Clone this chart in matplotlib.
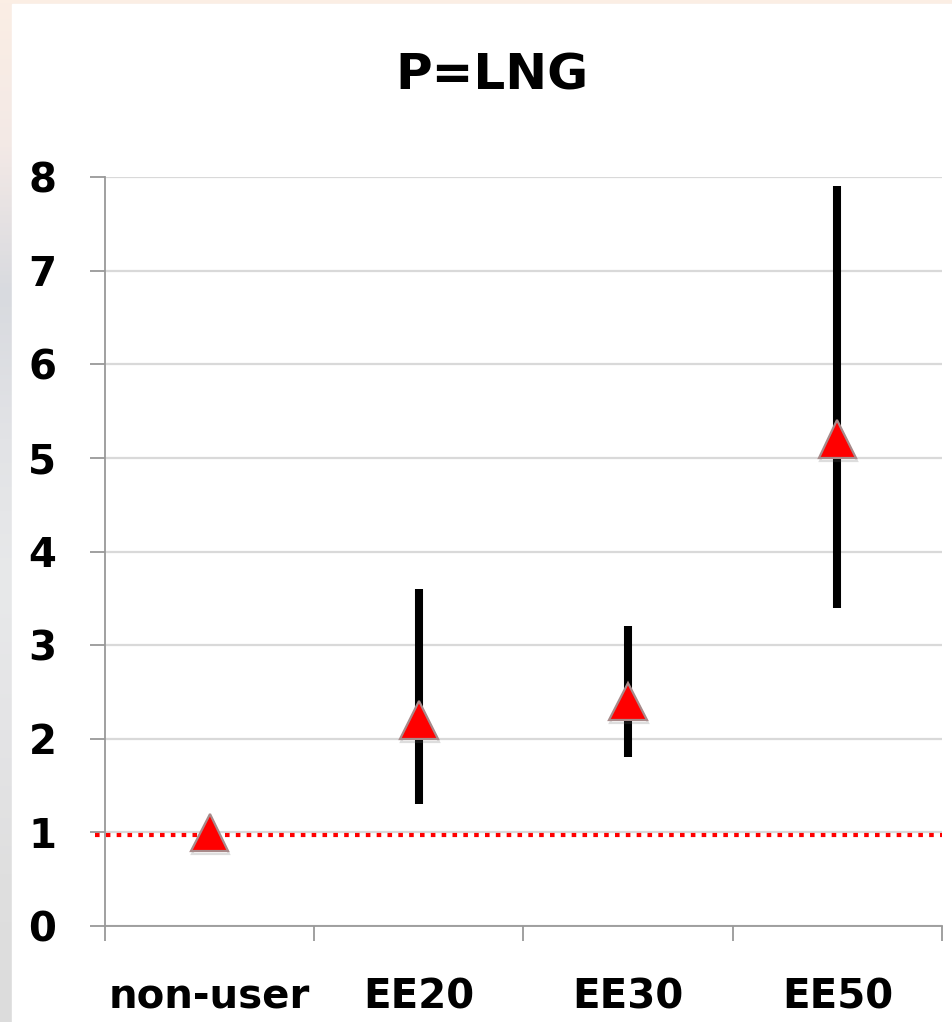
import numpy as np
import matplotlib
matplotlib.use("Agg")
import matplotlib.pyplot as plt
import matplotlib.patheffects as pe
from matplotlib.colors import LinearSegmentedColormap

# odds ratio estimates with 95% CI per exposure group
groups = ["non-user", "EE20", "EE30", "EE50"]
estimate = [1.0, 2.2, 2.4, 5.2]
ci_low = [None, 1.3, 1.8, 3.4]
ci_high = [None, 3.6, 3.2, 7.9]
reference_level = 0.97

plt.rcParams.update({"font.family": "DejaVu Sans", "font.weight": "bold"})

W, H = 953, 1022
fig = plt.figure(figsize=(W / 100, H / 100), dpi=100)

# hazy slide backdrop behind the white panel
bg = fig.add_axes([0, 0, 1, 1], zorder=-10)
bg.set_axis_off()
haze = LinearSegmentedColormap.from_list(
    "haze", ["#dcdcdc", "#dfdfdf", "#e4e4e6", "#e8e9ea", "#e2e3e6", "#d8dadf", "#f3e9e6", "#fbeee4"])
bg.imshow(np.linspace(0, 1, 256)[:, None], aspect="auto", cmap=haze,
          origin="lower", extent=[0, 1, 0, 1])
bg.add_patch(plt.Rectangle((12 / W, 0), 1, 1 - 4 / H, color="white", zorder=2))
bg.set_xlim(0, 1); bg.set_ylim(0, 1)

ax = fig.add_axes([105 / W, 1 - 926 / H, (942 - 105) / W, (926 - 177) / H])
ax.set_facecolor("none")
x = np.arange(len(groups))

for xi, lo, hi in zip(x, ci_low, ci_high):
    if lo is not None:
        ax.plot([xi, xi], [lo, hi], color="black", lw=5.8, solid_capstyle="butt", zorder=3)

ax.axhline(reference_level, xmin=-0.012, xmax=1.0, color="#ff0000", lw=3.0,
           ls=(0, (1.1, 1.5)), zorder=2, clip_on=False)

ax.plot(x, estimate, ls="none", marker="^", ms=27, mfc="#ff0000", mec="#a88a8a", mew=1.6,
        zorder=4, path_effects=[pe.SimpleLineShadow(offset=(0.8, -2.2), shadow_color="#666666", alpha=0.22),
                                pe.Normal()])

ax.set_xlim(-0.5, len(groups) - 0.5)
ax.set_ylim(0, 8)
ax.set_yticks(range(0, 9))
ax.set_xticks(x)
ax.set_xticklabels(groups)
ax.set_xticks(np.arange(-0.5, len(groups)), minor=True)
ax.tick_params(axis="x", which="major", length=0, pad=37, labelsize=29)
ax.tick_params(axis="x", which="minor", length=11, width=1.3, color="#999999", direction="out")
ax.tick_params(axis="y", length=11, width=1.3, color="#999999", pad=24, labelsize=29)
for lab in ax.get_xticklabels() + ax.get_yticklabels():
    lab.set_fontweight("bold")

ax.grid(axis="y", color="#d9d9d9", lw=1.6)
ax.set_axisbelow(True)
for s in ("top", "right"):
    ax.spines[s].set_visible(False)
for s in ("left", "bottom"):
    ax.spines[s].set_color("#999999")
    ax.spines[s].set_linewidth(1.3)

fig.text(492 / W, 1 - 76 / H, "P=LNG", ha="center", va="center", fontsize=36, fontweight="bold")

fig.savefig("out.png", dpi=100)
